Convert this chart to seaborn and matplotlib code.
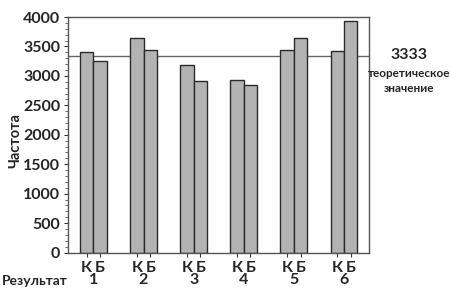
import matplotlib
matplotlib.use("Agg")
import matplotlib.pyplot as plt
from matplotlib.ticker import MultipleLocator
import seaborn as sns
import pandas as pd

results = ["1", "2", "3", "4", "5", "6"]
series_names = ["К", "Б"]
k_values = [3400, 3640, 3185, 2925, 3445, 3430]
b_values = [3255, 3445, 2910, 2840, 3640, 3935]
theory_value = 3333
y_ticks = [0, 500, 1000, 1500, 2000, 2500, 3000, 3500, 4000]

rows = []
for r, k, b in zip(results, k_values, b_values):
    rows.append({"Результат": r, "Тип": series_names[0], "Частота": k})
    rows.append({"Результат": r, "Тип": series_names[1], "Частота": b})
df = pd.DataFrame(rows)

sns.set_theme(style="white")
plt.rcParams["font.family"] = ["Lato", "DejaVu Sans"]

fig = plt.figure(figsize=(4.5, 2.89), dpi=100)
ax = fig.add_axes([0.152, 0.126, 0.668, 0.815])

sns.barplot(data=df, x="Результат", y="Частота", hue="Тип", order=results,
            hue_order=series_names, palette=["#b3b3b3", "#b3b3b3"],
            width=0.535, edgecolor="#2a2a2a", linewidth=1.0, saturation=1,
            legend=False, ax=ax, errorbar=None)

ax.set_xlim(-0.5, len(results) - 0.5)
ax.set_ylim(0, 4000)
ax.set_yticks(y_ticks)
ax.set_yticklabels([str(v) for v in y_ticks], fontsize=11.5, fontweight="bold")
ax.yaxis.set_minor_locator(MultipleLocator(100))
ax.tick_params(axis="y", which="major", direction="out", length=3, width=0.8,
               color="#333333", pad=3, left=True)
ax.tick_params(axis="y", which="minor", direction="out", length=2, width=0.6,
               color="#555555", left=True)

ax.axhline(theory_value, color="#666666", lw=1.0, zorder=0.5)

# x ticks at bar centers
centers = []
for p in ax.patches:
    if p.get_height() > 0:
        centers.append(p.get_x() + p.get_width() / 2)
order = sorted(centers)
ax.set_xticks(order)
lab = [series_names[i % 2] for i in range(len(order))]
ax.set_xticklabels(lab, fontsize=11.5, fontweight="bold")
ax.tick_params(axis="x", direction="out", length=3, width=0.8, color="#333333",
               pad=3, bottom=True)

for i, r in enumerate(results):
    ax.text(i, -0.118, r, transform=ax.get_xaxis_transform(), ha="center",
            va="center", fontsize=11.5, fontweight="bold")
fig.text(2 / 450, 1 - 281 / 289, "Результат", ha="left", va="center",
         fontsize=10, fontweight="bold")

ax.set_xlabel("")
ax.set_ylabel("")
fig.text(15 / 450, 1 - 141 / 289, "Частота", rotation=90, ha="center",
         va="center", fontsize=10.5, fontweight="bold")

for s in ax.spines.values():
    s.set_visible(True)
    s.set_color("#555555")
    s.set_linewidth(1.0)

xc = (409 - 68.3) / 300.7
ax.text(xc, 0.839, "3333", transform=ax.transAxes,
        ha="center", va="center", fontsize=11.5, fontweight="bold")
ax.text(xc, 0.762, "теоретическое", transform=ax.transAxes,
        ha="center", va="center", fontsize=8.5, fontweight="bold")
ax.text(xc, 0.695, "значение", transform=ax.transAxes,
        ha="center", va="center", fontsize=8.5, fontweight="bold")

fig.savefig("out.png", dpi=100)
